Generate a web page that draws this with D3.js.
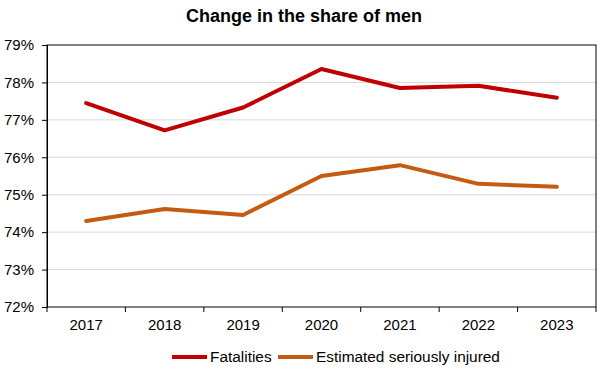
<!DOCTYPE html>
<html>
<head>
<meta charset="utf-8">
<script src="https://cdn.jsdelivr.net/npm/d3@7"></script>
<style>
  body { margin: 0; background: #fff; }
  text { font-family: Arial, 'Liberation Sans', sans-serif; fill: #000; }
</style>
</head>
<body>
<div id="chart"></div>
<script>
const years = ['2017', '2018', '2019', '2020', '2021', '2022', '2023']
const fatalities = [77.45, 76.72, 77.33, 78.36, 77.85, 77.91, 77.59]
const injured = [74.30, 74.62, 74.46, 75.50, 75.79, 75.29, 75.21]
const yTicks = [72, 73, 74, 75, 76, 77, 78, 79]
const seriesNames = ['Fatalities', 'Estimated seriously injured']
const colors = ['#C00000', '#C55A11']

const margin = { top: 45, right: 14, bottom: 64, left: 47 }
const width = 610 - margin.left - margin.right
const height = 371 - margin.top - margin.bottom

const root = d3.select('#chart')
  .append('svg')
  .attr('width', 610)
  .attr('height', 371)

root.append('text')
  .attr('x', 304)
  .attr('y', 22)
  .attr('text-anchor', 'middle')
  .style('font-size', '18px')
  .style('font-weight', 'bold')
  .text('Change in the share of men')

const svg = root.append('g')
  .attr('transform', 'translate(' + margin.left + ',' + margin.top + ')')

const x = d3.scaleBand().domain(years).range([0, width])
const y = d3.scaleLinear().domain([72, 79]).range([height, 0])

// gridlines
svg.append('g')
  .selectAll('line')
  .data(yTicks.slice(1, -1))
  .enter()
  .append('line')
  .attr('x1', 0)
  .attr('x2', width)
  .attr('y1', d => y(d))
  .attr('y2', d => y(d))
  .attr('stroke', '#d9d9d9')
  .attr('stroke-width', 1)

// y axis
const yAxis = d3.axisLeft(y)
  .tickValues(yTicks)
  .tickFormat(d => d + '%')
  .tickSize(5)
  .tickPadding(8)

svg.append('g')
  .attr('class', 'y-axis')
  .call(yAxis)
  .call(g => g.selectAll('text').style('font-size', '15px'))

// x axis: ticks at band edges
const xAxis = d3.axisBottom(x).tickSize(0).tickPadding(12)
const xg = svg.append('g')
  .attr('transform', 'translate(0,' + height + ')')
  .call(xAxis)
xg.selectAll('text').style('font-size', '15px')
xg.select('.domain').remove()
xg.selectAll('.edge')
  .data(d3.range(years.length + 1))
  .enter()
  .append('line')
  .attr('x1', i => i * x.step())
  .attr('x2', i => i * x.step())
  .attr('y1', 0)
  .attr('y2', 5)
  .attr('stroke', '#000')

// plot border
svg.append('rect')
  .attr('x', 0)
  .attr('y', 0)
  .attr('width', width)
  .attr('height', height)
  .attr('fill', 'none')
  .attr('stroke', '#000')
  .attr('stroke-width', 1)

const line = d3.line()
  .x((d, i) => x(years[i]) + x.bandwidth() / 2)
  .y(d => y(d))

;[fatalities, injured].forEach((values, i) => {
  svg.append('path')
    .datum(values)
    .attr('fill', 'none')
    .attr('stroke', colors[i])
    .attr('stroke-width', 4)
    .attr('stroke-linejoin', 'round')
    .attr('stroke-linecap', 'round')
    .attr('d', line)
})

// legend
const legend = root.append('g').attr('transform', 'translate(172,357)')
const legendX = [0, 106]
seriesNames.forEach((name, i) => {
  const item = legend.append('g').attr('transform', 'translate(' + legendX[i] + ',0)')
  item.append('line')
    .attr('x1', 0)
    .attr('x2', 35)
    .attr('stroke', colors[i])
    .attr('stroke-width', 4)
  item.append('text')
    .attr('x', 38)
    .attr('dy', '0.35em')
    .style('font-size', '15.4px')
    .text(name)
})
</script>
</body>
</html>
